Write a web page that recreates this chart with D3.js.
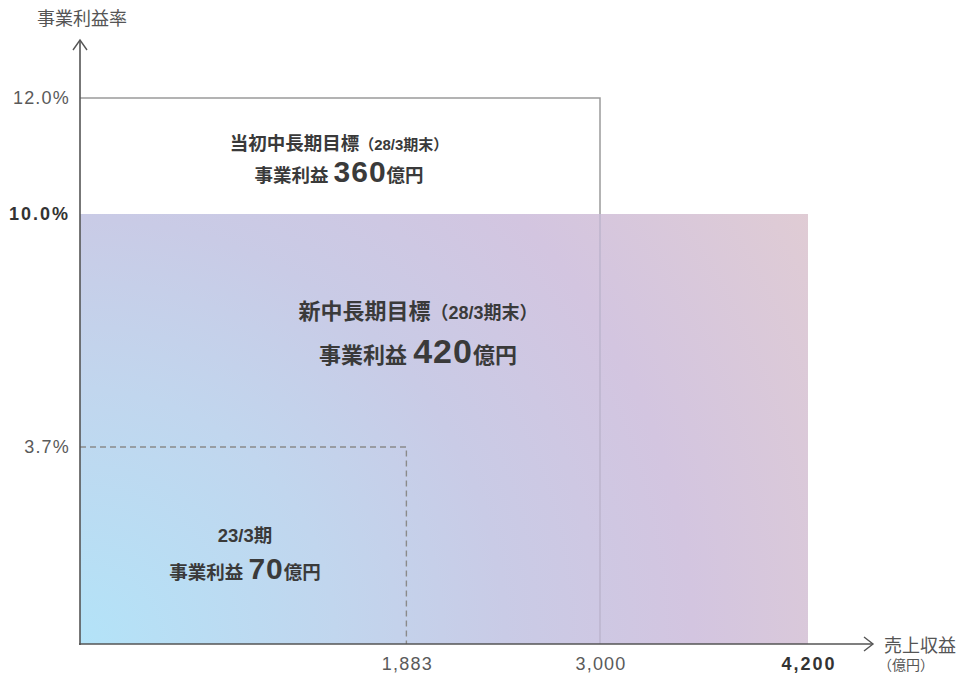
<!DOCTYPE html>
<html><head><meta charset="utf-8">
<script src="https://cdn.jsdelivr.net/npm/d3@7"></script>
<style>
body{margin:0;background:#fff;}
svg text{font-family:"Liberation Sans","Noto Sans CJK JP",sans-serif;}
</style></head>
<body><svg id="c" width="961" height="675"></svg>
<script>
const plans = ["23/3期", "当初中長期目標", "新中長期目標"];
const sales = [1883, 3000, 4200];          // 売上収益 (億円)
const margins = [3.7, 12.0, 10.0];         // 事業利益率 (%)
const profits = [70, 360, 420];            // 事業利益 (億円)
const xTickValues = [1883, 3000, 4200];
const xTickLabels = ["1,883", "3,000", "4,200"];
const yTickValues = [3.7, 10.0, 12.0];
const yTickLabels = ["3.7%", "10.0%", "12.0%"];

const svg = d3.select("#c");
const x = d3.scaleLinear().domain([0, 4200]).range([80, 808]);
// schematic (non-proportional) vertical scale, piecewise through the ticks
const y = d3.scaleLinear().domain([0, 3.7, 10, 12]).range([644, 447, 214, 98]);

const defs = svg.append("defs");
const g = defs.append("radialGradient").attr("id","grad")
  .attr("gradientUnits","userSpaceOnUse").attr("cx",x(0)).attr("cy",y(0)).attr("r",850);
[[0,"#b3e3f8"],[0.3,"#c1d6ee"],[0.5,"#c9cbe6"],[0.72,"#d3c5e0"],[1,"#e0ccd4"]]
  .forEach(([o,c])=>g.append("stop").attr("offset",o).attr("stop-color",c));

// new target area (filled)
svg.append("rect").attr("x",x(0)).attr("y",y(margins[2]))
  .attr("width",x(sales[2])-x(0)).attr("height",y(0)-y(margins[2])).attr("fill","url(#grad)");

// initial target outline
svg.append("path").attr("fill","none").attr("stroke","#9a9a9a").attr("stroke-width",1.5)
  .attr("d",`M${x(0)},${y(margins[1])}H${x(sales[1])}V${y(margins[2])}`);
svg.append("line").attr("x1",x(sales[1])).attr("x2",x(sales[1]))
  .attr("y1",y(margins[2])).attr("y2",y(0)).attr("stroke","#b8b0c8").attr("stroke-width",1.2);

// current dashed outline
svg.append("path").attr("fill","none").attr("stroke","#8a8a8a").attr("stroke-width",1.4)
  .attr("stroke-dasharray","6,4")
  .attr("d",`M${x(0)},${y(margins[0])}H${x(sales[0])}V${y(0)}`);

// axes
const axisColor = "#555";
svg.append("line").attr("x1",x(0)).attr("x2",x(0)).attr("y1",y(0)+1).attr("y2",40)
  .attr("stroke",axisColor).attr("stroke-width",1.6);
svg.append("path").attr("d",`M${x(0)-7},50L${x(0)},40L${x(0)+7},50`).attr("fill","none")
  .attr("stroke",axisColor).attr("stroke-width",1.4);
svg.append("line").attr("x1",x(0)-1).attr("x2",872).attr("y1",y(0)).attr("y2",y(0))
  .attr("stroke",axisColor).attr("stroke-width",1.6);
svg.append("path").attr("d",`M864,${y(0)-7}L873,${y(0)}L864,${y(0)+7}`).attr("fill","none")
  .attr("stroke",axisColor).attr("stroke-width",1.4);

// y tick labels
yTickValues.forEach((v,i)=>{
  svg.append("text").attr("x",70).attr("y",y(v)+6).attr("text-anchor","end")
    .attr("font-size",18).attr("fill", v===10 ? "#333" : "#5a5a5a")
    .attr("letter-spacing", v===10 ? 2 : 1.2)
    .attr("font-weight", v===10 ? "bold" : "normal").text(yTickLabels[i]);
});
// x tick labels
xTickValues.forEach((v,i)=>{
  svg.append("text").attr("x",x(v)+1).attr("y",670).attr("text-anchor","middle")
    .attr("font-size",18).attr("fill", v===4200 ? "#333" : "#5a5a5a")
    .attr("letter-spacing", v===4200 ? 2 : 1.2)
    .attr("font-weight", v===4200 ? "bold" : "normal").text(xTickLabels[i]);
});
// axis titles
svg.append("text").attr("x",82).attr("y",25).attr("text-anchor","middle").attr("font-size",18)
  .attr("fill","#555").text("事業利益率");
svg.append("text").attr("x",884).attr("y",652).attr("font-size",18).attr("fill","#555").text("売上収益");
svg.append("text").attr("x",878).attr("y",670).attr("font-size",14).attr("fill","#555").text("（億円）");

// annotation blocks
function block(cx, y1, y2, title, sub, val, fs, sfs, vfs){
  const t = svg.append("text").attr("x",cx).attr("y",y1).attr("text-anchor","middle")
    .attr("fill","#3a3a3a").attr("font-weight","bold");
  t.append("tspan").attr("font-size",fs).text(title);
  if(sub) t.append("tspan").attr("font-size",sfs).text(sub);
  const t2 = svg.append("text").attr("x",cx).attr("y",y2).attr("text-anchor","middle")
    .attr("fill","#3a3a3a").attr("font-weight","bold");
  t2.append("tspan").attr("font-size",fs).text("事業利益 ");
  t2.append("tspan").attr("font-size",vfs).attr("letter-spacing",1).text(val);
  t2.append("tspan").attr("font-size",fs).text("億円");
}
block(339, 150, 182, plans[1], "（28/3期末）", profits[1], 18.5, 15, 30);
block(418, 319, 363, plans[2], "（28/3期末）", profits[2], 22, 18, 34);
block(245, 542, 579, plans[0], null, profits[0], 18.5, 18.5, 30);
</script></body></html>
